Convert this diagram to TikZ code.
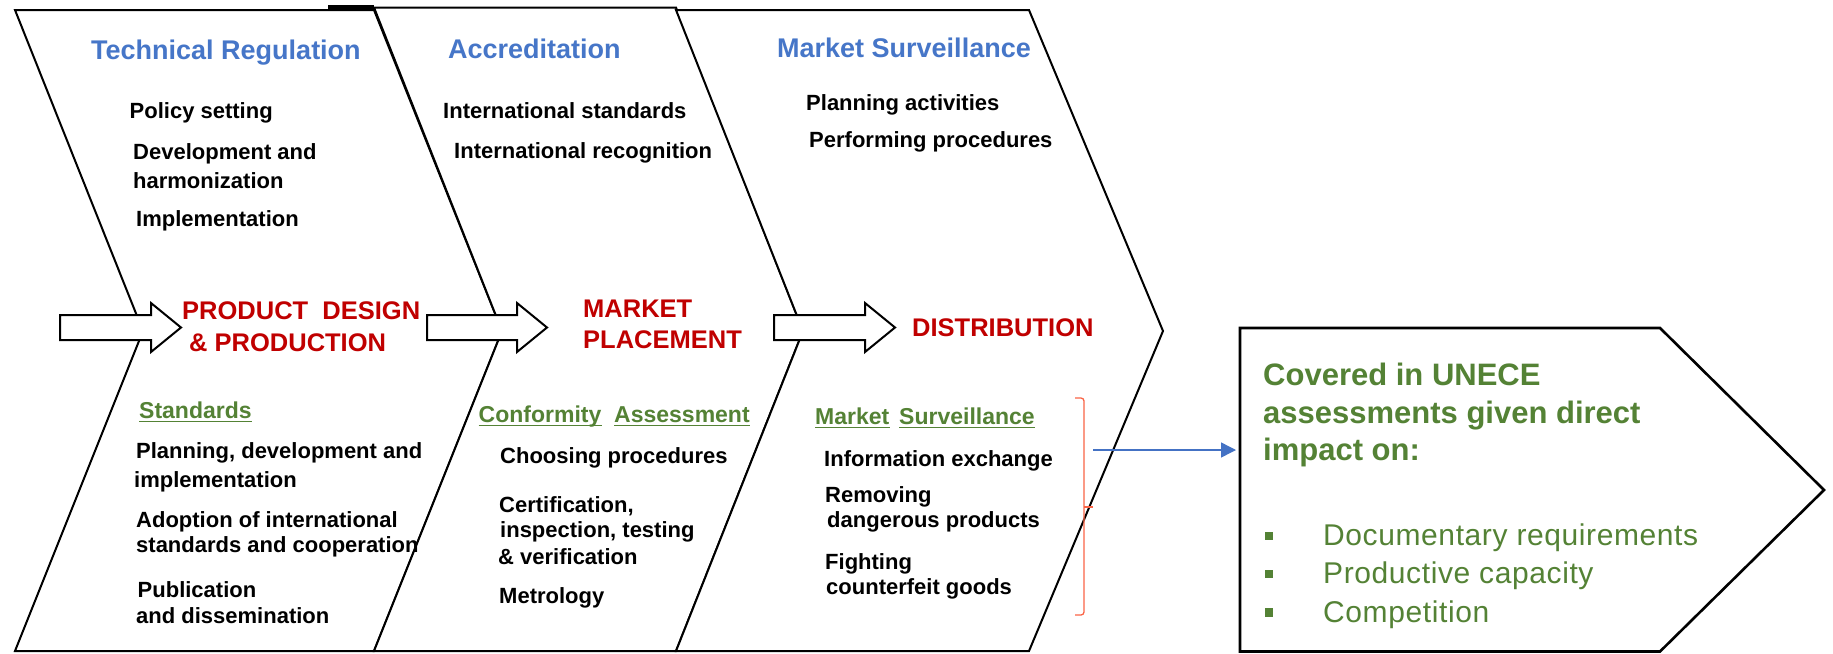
\documentclass[tikz,border=0pt]{standalone}
\usepackage{fontspec}
\setmainfont{Liberation Sans}
\usetikzlibrary{arrows.meta}
\definecolor{headblue}{RGB}{70,118,200}
\definecolor{stagered}{RGB}{192,0,0}
\definecolor{subgreen}{RGB}{84,130,53}
\definecolor{linkblue}{RGB}{68,114,196}
\definecolor{bracketred}{RGB}{250,100,70}
\tikzset{
  chev/.style={draw=black, fill=white, line width=2pt, line join=miter},
  blockarrow/.style={draw=black, fill=white, line width=2pt, line join=miter},
  txthead/.style={font=\fontsize{27}{32}\selectfont\bfseries, text=headblue, anchor=base west, inner sep=0pt},
  txtbody/.style={font=\fontsize{22}{26}\selectfont\bfseries, text=black, anchor=base west, inner sep=0pt},
  txtstage/.style={font=\fontsize{25.5}{30}\selectfont\bfseries, text=stagered, anchor=base west, inner sep=0pt},
  txtsub/.style={font=\fontsize{23}{27}\selectfont\bfseries, text=subgreen, anchor=base west, inner sep=0pt},
  txtbox/.style={font=\fontsize{31}{37}\selectfont\bfseries, text=subgreen, anchor=base west, inner sep=0pt},
  txtbullet/.style={font=\fontsize{30}{36}\selectfont\addfontfeature{LetterSpace=2}, text=subgreen, anchor=base west, inner sep=0pt},
  bulletsq/.style={fill=subgreen, minimum size=8.5pt, inner sep=0pt, draw=none},
  ulgreen/.style={draw=subgreen, line width=1.6pt},
  linkarrow/.style={draw=linkblue, line width=1.4pt, -{Triangle[length=15pt,width=15pt]}},
  bracketline/.style={draw=bracketred, line width=1.3pt, rounded corners=3pt}
}
\begin{document}
\begin{tikzpicture}[x=1pt,y=-1pt]
\useasboundingbox (0,0) rectangle (1833,653);
% chevrons
\path[chev] (15,10) -- (374,10) -- (502,331) -- (374,651) -- (15,651) -- (143,331) -- cycle;
\path[chev] (374,7.5) -- (676,7.5) -- (803,331) -- (676,651) -- (374,651) -- (502,331) -- cycle;
\path[chev] (676,10) -- (1029,10) -- (1163,331) -- (1029,651) -- (676,651) -- (803,331) -- cycle;
\draw[line width=4pt] (328,7) -- (374,7);
% block arrows
\path[blockarrow] (60,315) -- (151,315) -- (151,303) -- (181,327.5) -- (151,352) -- (151,340) -- (60,340) -- cycle;
\path[blockarrow] (427,315) -- (517,315) -- (517,303) -- (547,327.5) -- (517,352) -- (517,340) -- (427,340) -- cycle;
\path[blockarrow] (774,315) -- (865,315) -- (865,303) -- (895,327.5) -- (865,352) -- (865,340) -- (774,340) -- cycle;
% UNECE box
\path[draw=black, fill=white, line width=2.6pt, line join=miter] (1240,328) -- (1660,328) -- (1824,490) -- (1660,651.5) -- (1240,651.5) -- cycle;
% stage 1 texts
\node[txthead] (h1) at (91,59) {Technical Regulation};
\node[txtbody] (t11) at (129.5,118) {Policy setting};
\node[txtbody] (t12) at (133,159) {Development and};
\node[txtbody] (t13) at (133,188) {harmonization};
\node[txtbody] (t14) at (136,226) {Implementation};
\node[txtstage] (s1a) at (182,319) {PRODUCT\ \ DESIGN};
\node[txtstage] (s1b) at (189,351) {\& PRODUCTION};
\node[txtsub] (u1) at (139,418) {Standards};
\node[txtbody] (b11) at (136,458) {Planning, development and};
\node[txtbody] (b12) at (134,487) {implementation};
\node[txtbody] (b13) at (136,527) {Adoption of international};
\node[txtbody] (b14) at (136,552) {standards and cooperation};
\node[txtbody] (b15) at (137.5,597) {Publication};
\node[txtbody] (b16) at (136,623) {and dissemination};
% stage 2 texts
\node[txthead] (h2) at (448,58) {Accreditation};
\node[txtbody] (t21) at (443,118) {International standards};
\node[txtbody] (t22) at (454,158) {International recognition};
\node[txtstage] (s2a) at (583,317) {MARKET};
\node[txtstage] (s2b) at (583,348) {PLACEMENT};
\node[txtsub] (u2a) at (478.5,422) {Conformity};
\node[txtsub] (u2b) at (614,422) {Assessment};
\node[txtbody] (b21) at (500,463) {Choosing procedures};
\node[txtbody] (b22) at (499,512) {Certification,};
\node[txtbody] (b23) at (500,537) {inspection, testing};
\node[txtbody] (b24) at (498,564) {\& verification};
\node[txtbody] (b25) at (499,603) {Metrology};
% stage 3 texts
\node[txthead] (h3) at (777,57) {Market Surveillance};
\node[txtbody] (t31) at (806,110) {Planning activities};
\node[txtbody] (t32) at (809,147) {Performing procedures};
\node[txtstage] (s3) at (912,336) {DISTRIBUTION};
\node[txtsub] (u3a) at (815,424) {Market};
\node[txtsub] (u3b) at (899,424) {Surveillance};
\node[txtbody] (b31) at (824,466) {Information exchange};
\node[txtbody] (b32) at (825,502) {Removing};
\node[txtbody] (b33) at (827,527) {dangerous products};
\node[txtbody] (b34) at (825,569) {Fighting};
\node[txtbody] (b35) at (826,594) {counterfeit goods};
% underlines
\foreach \n in {u1,u2a,u2b,u3a,u3b}
  \draw[ulgreen] ([yshift=-3.5pt]\n.base west) -- ([yshift=-3.5pt]\n.base east);
% bracket
\coordinate (brtop) at (1075,398);
\coordinate (brbot) at (1075,615);
\coordinate (brmid) at (1093,507);
\draw[bracketline] (brtop) -- (1084,398) -- (1084,615) -- (brbot);
\draw[draw=bracketred, line width=1.3pt] (1084,507) -- (brmid);
% link arrow
\coordinate (linkstart) at (1093,450);
\coordinate (boxleft) at (1236,450);
\draw[linkarrow] (linkstart) -- (boxleft);
% UNECE box texts
\node[txtbox] (c1) at (1263,385) {Covered in UNECE};
\node[txtbox] (c2) at (1263,423) {assessments given direct};
\node[txtbox] (c3) at (1263,460) {impact on:};
\node[bulletsq] (q1) at (1269,536) {};
\node[bulletsq] (q2) at (1269,574) {};
\node[bulletsq] (q3) at (1269,612.5) {};
\node[txtbullet] (d1) at (1323,545) {Documentary requirements};
\node[txtbullet] (d2) at (1323,583) {Productive capacity};
\node[txtbullet] (d3) at (1323,622) {Competition};
\end{tikzpicture}
\end{document}
